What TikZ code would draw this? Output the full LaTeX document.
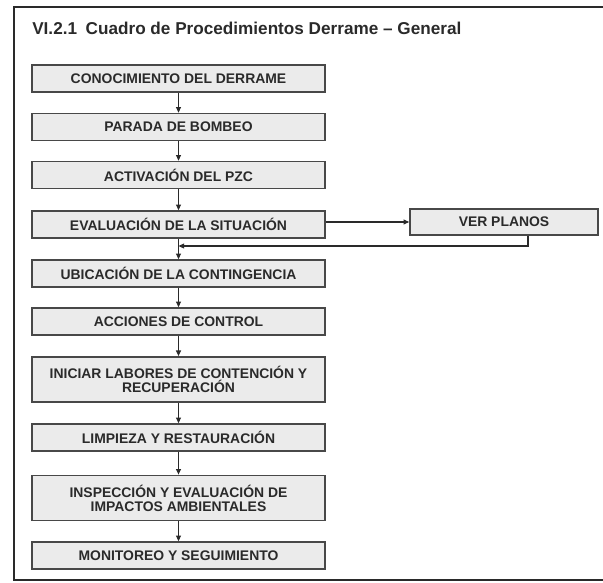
\documentclass[tikz,border=0pt]{standalone}
\usepackage{fontspec}
\setmainfont{Liberation Sans}
\usetikzlibrary{arrows.meta,positioning,calc}

\definecolor{boxfill}{HTML}{EBEBEB}
\definecolor{boxline}{HTML}{484848}
\definecolor{inkgray}{HTML}{2A2A2A}

\begin{document}
\begin{tikzpicture}[x=0.025cm, y=-0.025cm,
    box/.style={draw=boxline, line width=1.1pt, fill=boxfill, minimum width=7.325cm, minimum height=0.675cm, inner sep=0pt, align=center, text=inkgray, font=\fontsize{9.9}{10}\selectfont\bfseries},
    tallbox/.style={box, minimum height=1.13cm},
    arr/.style={-{Triangle[length=4pt, width=3.5pt]}, line width=0.8pt, draw=inkgray},
    frame/.style={draw=inkgray, line width=2pt}
]
\clip (0,0) rectangle (603,583);
\useasboundingbox (0,0) rectangle (603,583);
\draw[frame] (14,7) rectangle (640,580);

\node[anchor=base west, inner sep=0pt, text=inkgray, font=\fontsize{12.2}{14}\selectfont\bfseries] (title) at (32,35) {VI.2.1\enspace Cuadro de Procedimientos Derrame -- General};

\node[box] (conoc) at (178.5,78.5) {CONOCIMIENTO DEL DERRAME};
\node[box] (parada) at (178.5,127) {PARADA DE BOMBEO};
\node[box] (activ) at (178.5,175) {ACTIVACI\'ON DEL PZC};
\node[box] (eval) at (178.5,224.5) {EVALUACI\'ON DE LA SITUACI\'ON};
\node[box, minimum width=4.7cm, minimum height=0.65cm] (ver) at (504,222) {VER PLANOS};
\node[box] (ubic) at (178.5,273.5) {UBICACI\'ON DE LA CONTINGENCIA};
\node[box] (acc) at (178.5,321.5) {ACCIONES DE CONTROL};
\node[tallbox] (inic) at (178.5,379.5) {INICIAR LABORES DE CONTENCI\'ON Y\\RECUPERACI\'ON};
\node[box] (limp) at (178.5,437.5) {LIMPIEZA Y RESTAURACI\'ON};
\node[tallbox] (insp) at (178.5,498) {INSPECCI\'ON Y EVALUACI\'ON DE\\IMPACTOS AMBIENTALES};
\node[box] (monit) at (178.5,555.5) {MONITOREO Y SEGUIMIENTO};

\coordinate (join) at (178.5,246);

\draw[arr] (conoc) -- (parada);
\draw[arr] (parada) -- (activ);
\draw[arr] (activ) -- (eval);
\draw[arr] (eval) -- (ubic);
\draw[arr] (eval.east |- ver.west) -- (ver.west);
\draw[arr] ([xshift=0.6cm]ver.south) |- (join);
\draw[arr] (ubic) -- (acc);
\draw[arr] (acc) -- (inic);
\draw[arr] (inic) -- (limp);
\draw[arr] (limp) -- (insp);
\draw[arr] (insp) -- (monit);
\end{tikzpicture}
\end{document}
